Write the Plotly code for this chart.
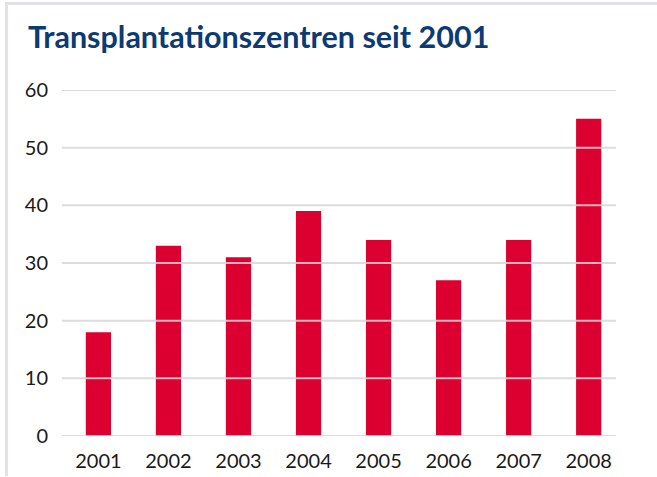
import plotly.graph_objects as go

years = ["2001", "2002", "2003", "2004", "2005", "2006", "2007", "2008"]
centers = [18, 33, 31, 39, 34, 27, 34, 55]
y_ticks = [0, 10, 20, 30, 40, 50, 60]

W, H = 657, 477
ML, MR, MT, MB = 62, 41, 90, 41
PW, PH = W - ML - MR, H - MT - MB

def px_x(x):
    return (x - ML) / PW

def px_y(y):
    return 1 - (y - MT) / PH

fig = go.Figure()
fig.add_trace(go.Bar(
    x=years, y=centers,
    marker=dict(color="#dc0030", line=dict(width=0)),
    width=0.36,
    hoverinfo="x+y",
))

shapes = []
# gridlines drawn above the bars
for t in y_ticks:
    shapes.append(dict(type="line", xref="paper", yref="y", x0=0, x1=1, y0=t, y1=t,
                       line=dict(color="rgba(214,214,214,0.85)", width=2), layer="above"))
# frame borders (top and left)
shapes.append(dict(type="line", xref="paper", yref="paper",
                   x0=px_x(5), x1=px_x(W + 5), y0=px_y(3.5), y1=px_y(3.5),
                   line=dict(color="#e1e1ee", width=3), layer="above"))
shapes.append(dict(type="line", xref="paper", yref="paper",
                   x0=px_x(6.5), x1=px_x(6.5), y0=px_y(2), y1=px_y(476),
                   line=dict(color="#e1e1ee", width=3), layer="above"))

fig.update_layout(
    width=W, height=H,
    margin=dict(l=ML, r=MR, t=MT, b=MB, autoexpand=False),
    paper_bgcolor="white", plot_bgcolor="white",
    showlegend=False,
    shapes=shapes,
    title=dict(text="<b>Transplantationszentren seit 2001</b>",
               x=28 / W, xanchor="left", y=1 - 37 / H, yanchor="middle",
               font=dict(family="Lato, sans-serif", size=30.5, color="#0c3a72")),
    font=dict(family="Lato, sans-serif", size=20, color="#1a1a1a"),
    xaxis=dict(type="category", range=[-0.52, 7.39], showgrid=False, zeroline=False,
               showline=False, ticks="outside", ticklen=7, tickcolor="rgba(0,0,0,0)",
               automargin=False, tickfont=dict(size=20, color="#1a1a1a")),
    yaxis=dict(range=[0, 60], tickvals=y_ticks, showgrid=False, zeroline=False,
               showline=False, ticks="outside", ticklen=9, tickcolor="rgba(0,0,0,0)",
               automargin=False, tickfont=dict(size=20, color="#1a1a1a")),
)

fig.write_html("out.html", config={"displayModeBar": False},
               post_script="document.body.style.margin='0';document.body.style.overflow='hidden';")
